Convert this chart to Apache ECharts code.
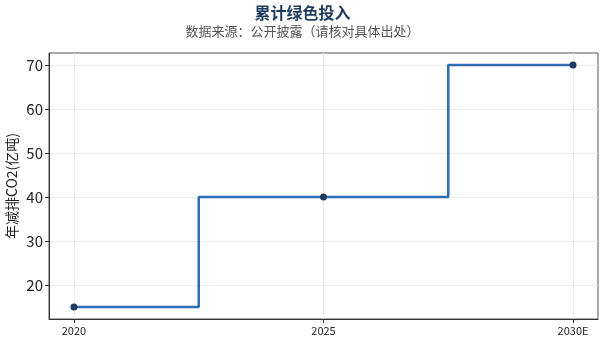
<!DOCTYPE html>
<html>
<head>
<meta charset="utf-8">
<script src="https://cdn.jsdelivr.net/npm/echarts@6/dist/echarts.min.js"></script>
<style>
  html, body { margin: 0; padding: 0; background: #fff; }
  #chart { width: 605px; height: 346px; }
</style>
</head>
<body>
<div id="chart"></div>
<script>
// Year categories and cumulative CO2 reduction values (亿吨)
const years = ['2020', '2025', '2030E'];
const reduction = [15, 40, 70];
const yTicks = [20, 30, 40, 50, 60, 70];
const xTicks = [0, 1, 2];

const FONT = '"Noto Sans CJK SC", "Noto Sans", sans-serif';

const chart = echarts.init(document.getElementById('chart'), null, { renderer: 'canvas' });

const points = reduction.map((v, i) => [i, v]);

chart.setOption({
  animation: false,
  backgroundColor: '#ffffff',
  title: {
    text: '累计绿色投入',
    subtext: '数据来源：公开披露（请核对具体出处）',
    left: 'center',
    top: 0,
    itemGap: 4,
    textStyle: { fontFamily: FONT, fontSize: 16, fontWeight: 'bold', color: '#1f3a5f' },
    subtextStyle: { fontFamily: FONT, fontSize: 13, color: '#555555' }
  },
  grid: {
    left: 49, right: 7, top: 53, bottom: 27,
    outerBoundsMode: 'none',
    containLabel: false,
    show: true, borderColor: '#555555', borderWidth: 1
  },
  xAxis: {
    type: 'value',
    min: -0.1,
    max: 2.1,
    axisLine: { show: true, onZero: false, lineStyle: { color: '#333333', width: 1 } },
    axisTick: { show: true, customValues: xTicks, length: 4, lineStyle: { color: '#333333' } },
    axisLabel: {
      customValues: xTicks,
      formatter: v => years[Math.round(v)],
      fontFamily: FONT, fontSize: 11, color: '#222222', margin: 6
    },
    splitLine: { show: true, lineStyle: { color: '#ebebeb', width: 1 } }
  },
  yAxis: {
    type: 'value',
    min: 12.25,
    max: 72.75,
    name: '年减排CO2(亿吨)',
    nameLocation: 'middle',
    nameGap: 30,
    nameMoveOverlap: false,
    nameTextStyle: { fontFamily: FONT, fontSize: 14, color: '#222222' },
    axisLine: { show: true, onZero: false, lineStyle: { color: '#333333', width: 1 } },
    axisTick: { show: true, customValues: yTicks, length: 4, lineStyle: { color: '#333333' } },
    axisLabel: {
      customValues: yTicks,
      fontFamily: FONT, fontSize: 15, color: '#222222', margin: 6
    },
    splitLine: { show: true, lineStyle: { color: '#ebebeb', width: 1 } }
  },
  series: [{
    type: 'line',
    data: points,
    step: 'middle',
    symbol: 'circle',
    symbolSize: 7,
    lineStyle: { color: '#2e6db4', width: 2.5 },
    itemStyle: { color: '#1f3a5f' },
    z: 3
  }]
});
</script>
</body>
</html>
